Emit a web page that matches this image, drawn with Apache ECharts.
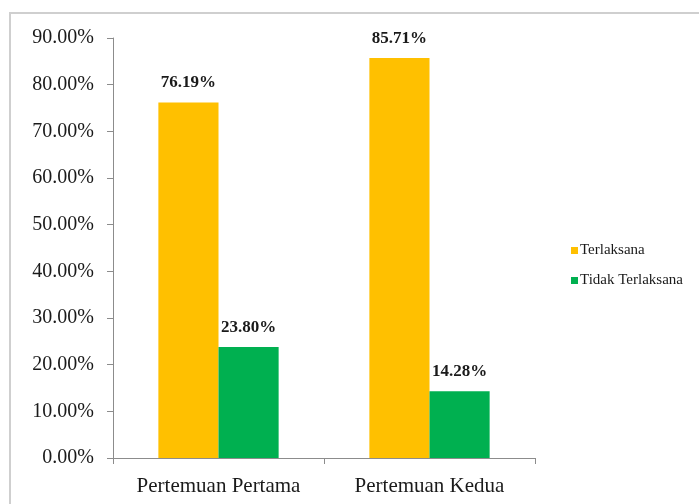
<!DOCTYPE html>
<html>
<head>
<meta charset="utf-8">
<script src="https://cdn.jsdelivr.net/npm/echarts@6/dist/echarts.min.js"></script>
<style>
  html, body { margin: 0; padding: 0; background: #fff; }
  #chart { width: 699px; height: 504px; }
</style>
</head>
<body>
<div id="chart"></div>
<script>
// Meeting categories and percentages per status
const categories = ['Pertemuan Pertama', 'Pertemuan Kedua'];
const terlaksana = [76.19, 85.71];
const tidakTerlaksana = [23.80, 14.28];
const seriesNames = ['Terlaksana', 'Tidak Terlaksana'];

const serif = '"Liberation Serif", "Times New Roman", serif';

const chart = echarts.init(document.getElementById('chart'), null, { renderer: 'canvas' });

const valueLabel = {
  show: true,
  position: 'top',
  distance: 11,
  fontFamily: serif,
  fontWeight: 'bold',
  fontSize: 17,
  color: '#1a1a1a',
  formatter: p => p.value.toFixed(2) + '%'
};

chart.setOption({
  animation: false,
  backgroundColor: '#fff',
  graphic: [{
    type: 'rect',
    shape: { x: 10, y: 13, width: 700, height: 500 },
    style: { fill: 'none', stroke: '#cfcfcf', lineWidth: 2 },
    silent: true
  }],
  grid: { left: 113, right: 164, top: 38, bottom: 46, containLabel: false },
  legend: {
    orient: 'vertical',
    left: 566,
    top: 238,
    itemWidth: 7,
    itemHeight: 7,
    itemGap: 15,
    icon: 'rect',
    textStyle: { fontFamily: serif, fontSize: 15, color: '#1a1a1a', padding: [0, 0, 0, -3] },
    data: seriesNames
  },
  xAxis: {
    type: 'category',
    data: categories,
    axisLine: { lineStyle: { color: '#8c8c8c', width: 1 } },
    axisTick: { show: true, length: 6, lineStyle: { color: '#8c8c8c' } },
    axisLabel: { interval: 0, hideOverlap: false, fontFamily: serif, fontSize: 21, color: '#1a1a1a', margin: 18 },
    splitLine: { show: false }
  },
  yAxis: {
    type: 'value',
    min: 0,
    max: 90,
    interval: 10,
    axisLine: { show: true, lineStyle: { color: '#8c8c8c', width: 1 } },
    axisTick: { show: true, length: 6, lineStyle: { color: '#8c8c8c' } },
    axisLabel: {
      fontFamily: serif, fontSize: 20, color: '#1a1a1a', margin: 19,
      formatter: v => v.toFixed(2) + '%'
    },
    splitLine: { show: false }
  },
  series: [
    {
      name: seriesNames[0],
      type: 'bar',
      data: terlaksana,
      barGap: '0%',
      barCategoryGap: '43%',
      itemStyle: { color: '#FFC000' },
      label: valueLabel
    },
    {
      name: seriesNames[1],
      type: 'bar',
      data: tidakTerlaksana,
      itemStyle: { color: '#00B050' },
      label: valueLabel
    }
  ]
});
</script>
</body>
</html>
